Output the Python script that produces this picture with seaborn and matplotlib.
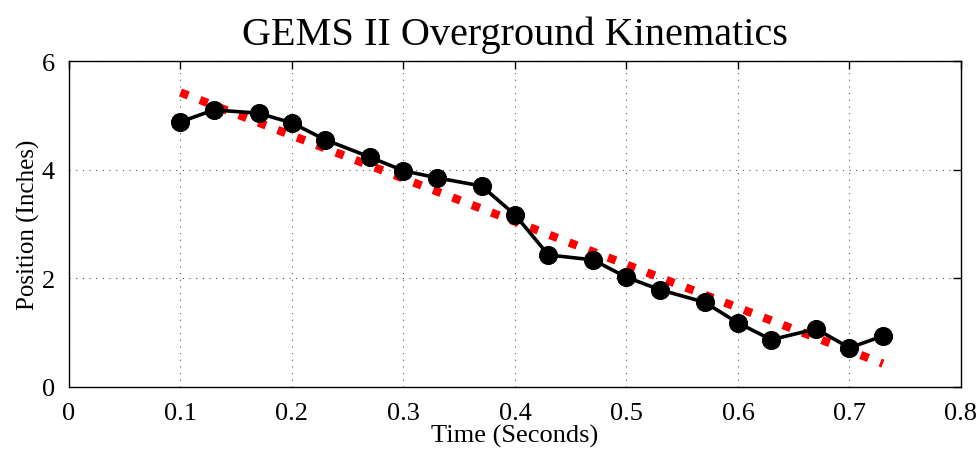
import numpy as np
import seaborn as sns
from matplotlib import pyplot as plt

# Sampled marker positions (30 fps, times rounded to 2 decimals)
time_s = [0.10, 0.13, 0.17, 0.20, 0.23, 0.27, 0.30, 0.33, 0.37, 0.40,
          0.43, 0.47, 0.50, 0.53, 0.57, 0.60, 0.63, 0.67, 0.70, 0.73]
position_in = [4.88, 5.10, 5.04, 4.86, 4.55, 4.23, 3.98, 3.85, 3.70, 3.17,
               2.43, 2.34, 2.02, 1.79, 1.56, 1.18, 0.87, 1.07, 0.72, 0.94]

x_ticks = [0, 0.1, 0.2, 0.3, 0.4, 0.5, 0.6, 0.7, 0.8]
x_tick_labels = ['0', '0.1', '0.2', '0.3', '0.4', '0.5', '0.6', '0.7', '0.8']
y_ticks = [0, 2, 4, 6]

sns.set_style('white')
plt.rcParams['font.family'] = ['Liberation Serif', 'DejaVu Serif']
plt.rcParams['text.color'] = 'black'
plt.rcParams['axes.labelcolor'] = 'black'

fig = plt.figure(figsize=(9.77, 4.52), dpi=100)
ax = fig.add_axes([0.0706, 0.1416, 0.9130, 0.7212])

# Linear fit (red dotted)
sns.regplot(
    x=time_s,
    y=position_in,
    ax=ax,
    scatter=False,
    ci=None,
    truncate=True,
    line_kws=dict(color='red', lw=6, linestyle=(0, (1, 1.5)),
                  dash_capstyle='butt', zorder=2),
)

# Measured positions
sns.lineplot(
    x=time_s,
    y=position_in,
    ax=ax,
    color='black',
    lw=2.6,
    marker='o',
    markersize=13,
    markeredgecolor='black',
    zorder=3,
)

ax.set_xlim(0, 0.8)
ax.set_ylim(0, 6)
ax.set_xticks(x_ticks)
ax.set_xticklabels(x_tick_labels)
ax.set_yticks(y_ticks)

ax.grid(True, color='#555555', linestyle=(0, (1, 5)), lw=0.8)
ax.tick_params(direction='in', length=6, width=1, top=True, right=True,
               labelsize=19, colors='black')
ax.tick_params(axis='x', pad=11)
ax.tick_params(axis='y', pad=10)
for spine in ax.spines.values():
    spine.set_visible(True)
    spine.set_color('black')
    spine.set_linewidth(1)

ax.set_xlabel('Time (Seconds)', fontsize=19, labelpad=0)
ax.set_ylabel('Position (Inches)', fontsize=18, labelpad=1.5)
ax.set_title('GEMS II Overground Kinematics', fontsize=29, pad=12, color='black')

fig.savefig('out.png', dpi=100)
